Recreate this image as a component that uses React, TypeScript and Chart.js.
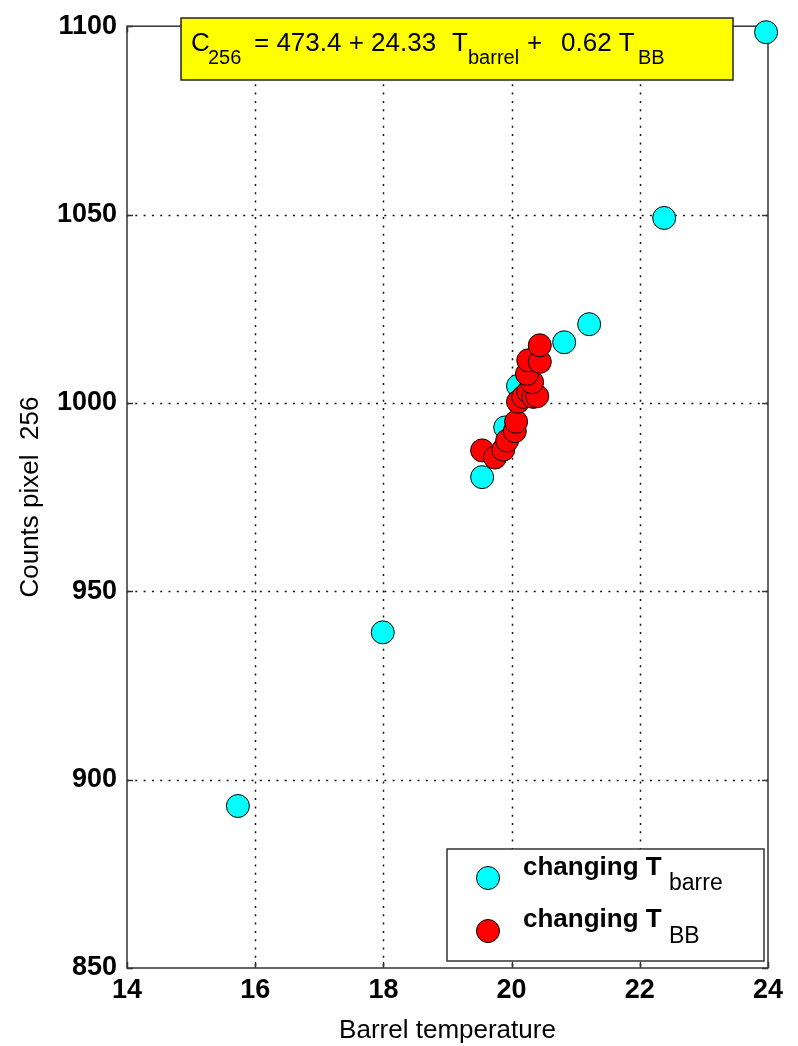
import React, { useEffect, useRef } from "react";
import { Chart, registerables } from "chart.js";

Chart.register(...registerables);

// ---- data ----
const xTicks = [14, 16, 18, 20, 22, 24];
const yTicks = [850, 900, 950, 1000, 1050, 1100];

const barrelTemp = [15.73, 17.99, 19.54, 19.9, 20.1, 20.82, 21.21, 22.38, 23.97];
const barrelCounts = [893.0, 939.1, 980.3, 993.5, 1004.5, 1016.1, 1020.9, 1049.1, 1098.4];

const bbTemp = [19.54, 19.74, 19.87, 19.93, 20.05, 20.07, 20.1, 20.18, 20.26, 20.34, 20.4, 20.32, 20.24, 20.26, 20.44, 20.44];
const bbCounts = [987.4, 985.5, 987.6, 990.0, 992.5, 995.0, 1000.3, 1001.6, 1003.0, 1001.6, 1001.8, 1005.5, 1007.7, 1011.3, 1010.9, 1015.3];

const xTitle = "Barrel temperature";
const yTitle = "Counts pixel  256";
const legendMain = ["changing T", "changing T"];
const legendSub = ["barre", "BB"];

const FONT = "'Liberation Sans', Arial, Helvetica, sans-serif";

const decor = {
  id: "decor",
  beforeDatasetsDraw(chart: any) {
    const { ctx, chartArea, scales } = chart;
    const { left, right, top, bottom } = chartArea;
    const x = scales.x;
    const y = scales.y;
    ctx.save();
    // dotted grid
    ctx.strokeStyle = "#111";
    ctx.lineWidth = 1.5;
    ctx.setLineDash([2, 6.3]);
    xTicks.slice(1, -1).forEach((v) => {
      const px = Math.round(x.getPixelForValue(v)) + 0.5;
      ctx.beginPath();
      ctx.moveTo(px, top);
      ctx.lineTo(px, bottom);
      ctx.stroke();
    });
    yTicks.slice(1, -1).forEach((v) => {
      const py = Math.round(y.getPixelForValue(v)) + 0.5;
      ctx.beginPath();
      ctx.moveTo(left, py);
      ctx.lineTo(right, py);
      ctx.stroke();
    });
    ctx.setLineDash([]);
    // frame
    ctx.strokeStyle = "#333";
    ctx.lineWidth = 1.5;
    ctx.strokeRect(left, top, right - left, bottom - top);
    // inward ticks
    const tl = 6;
    ctx.beginPath();
    xTicks.forEach((v) => {
      const px = Math.round(x.getPixelForValue(v)) + 0.5;
      ctx.moveTo(px, bottom);
      ctx.lineTo(px, bottom - tl);
      ctx.moveTo(px, top);
      ctx.lineTo(px, top + tl);
    });
    yTicks.forEach((v) => {
      const py = Math.round(y.getPixelForValue(v)) + 0.5;
      ctx.moveTo(left, py);
      ctx.lineTo(left + tl, py);
      ctx.moveTo(right, py);
      ctx.lineTo(right - tl, py);
    });
    ctx.stroke();
    ctx.restore();
  },
  afterDatasetsDraw(chart: any) {
    const { ctx } = chart;
    ctx.save();
    // equation box
    ctx.fillStyle = "#ffff00";
    ctx.fillRect(181, 18, 552, 62);
    ctx.strokeStyle = "#222";
    ctx.lineWidth = 1.5;
    ctx.strokeRect(181, 18, 552, 62);
    ctx.fillStyle = "#000";
    ctx.textBaseline = "alphabetic";
    ctx.textAlign = "left";
    const main = `26px ${FONT}`;
    const sub = `20px ${FONT}`;
    ctx.font = main;
    ctx.fillText("C", 191, 51);
    ctx.fillText("= 473.4 + 24.33", 254, 51);
    ctx.fillText("T", 452, 51);
    ctx.fillText("+", 527, 51);
    ctx.fillText("0.62 T", 561, 51);
    ctx.font = sub;
    ctx.fillText("256", 208, 64);
    ctx.fillText("barrel", 468, 64);
    ctx.fillText("BB", 638, 64);

    // legend box
    ctx.fillStyle = "#fff";
    ctx.fillRect(447, 849, 317, 112);
    ctx.strokeStyle = "#333";
    ctx.lineWidth = 1.5;
    ctx.strokeRect(447, 849, 317, 112);
    const rows = [
      { cy: 878, color: "#00ffff", base: 875, subBase: 890 },
      { cy: 931, color: "#ff0000", base: 927, subBase: 943 },
    ];
    rows.forEach((r, i) => {
      ctx.beginPath();
      ctx.arc(488, r.cy, 11.5, 0, Math.PI * 2);
      ctx.fillStyle = r.color;
      ctx.fill();
      ctx.strokeStyle = "#000";
      ctx.lineWidth = 1;
      ctx.stroke();
      ctx.fillStyle = "#000";
      ctx.font = `bold 26px ${FONT}`;
      ctx.fillText(legendMain[i], 523, r.base);
      ctx.font = `23px ${FONT}`;
      ctx.fillText(legendSub[i], 669, r.subBase);
    });
    ctx.restore();
  },
};

export default function App() {
  const ref = useRef<HTMLCanvasElement | null>(null);
  useEffect(() => {
    document.body.style.margin = "0";
    const canvas = ref.current;
    if (!canvas) return;
    const chart = new Chart(canvas, {
      type: "scatter",
      data: {
        datasets: [
          {
            label: "changing T_BB",
            data: bbTemp.map((t, i) => ({ x: t, y: bbCounts[i] })),
            backgroundColor: "#ff0000",
            borderColor: "#000",
            borderWidth: 1,
            pointRadius: 11.5,
            pointHoverRadius: 11.5,
            order: 0,
            clip: false as any,
          },
          {
            label: "changing T_barrel",
            data: barrelTemp.map((t, i) => ({ x: t, y: barrelCounts[i] })),
            backgroundColor: "#00ffff",
            borderColor: "#000",
            borderWidth: 1,
            pointRadius: 11.5,
            pointHoverRadius: 11.5,
            order: 1,
            clip: false as any,
          },
        ],
      },
      options: {
        animation: false,
        responsive: false,
        maintainAspectRatio: false,
        devicePixelRatio: 1,
        events: [],
        layout: { padding: { left: 0, right: 30, top: 20, bottom: 0 } },
        plugins: {
          legend: { display: false },
          tooltip: { enabled: false },
        },
        scales: {
          x: {
            type: "linear",
            min: 14,
            max: 24,
            afterFit: (s: any) => {
              s.height = 78;
            },
            afterBuildTicks: (s: any) => {
              s.ticks = xTicks.map((v) => ({ value: v }));
            },
            grid: { display: false, drawTicks: false },
            border: { display: false },
            ticks: {
              color: "#000",
              font: { family: FONT, size: 27, weight: "bold" },
              padding: 6,
              maxRotation: 0,
              autoSkip: false,
              callback: (v: any) => String(v),
            },
            title: {
              display: true,
              text: xTitle,
              color: "#000",
              font: { family: FONT, size: 26 },
              padding: { top: 0, bottom: 0 },
            },
          },
          y: {
            type: "linear",
            min: 850,
            max: 1100,
            afterFit: (s: any) => {
              s.width = 127;
            },
            afterBuildTicks: (s: any) => {
              s.ticks = yTicks.map((v) => ({ value: v }));
            },
            grid: { display: false, drawTicks: false },
            border: { display: false },
            ticks: {
              color: "#000",
              font: { family: FONT, size: 27, weight: "bold" },
              padding: 10,
              autoSkip: false,
              callback: (v: any) => String(v),
            },
            title: {
              display: true,
              text: yTitle,
              color: "#000",
              font: { family: FONT, size: 26 },
              padding: { top: 15, bottom: 0 },
            },
          },
        },
      },
      plugins: [decor],
    });
    return () => chart.destroy();
  }, []);
  return (
    <div style={{ width: 798, height: 1046 }}>
      <canvas ref={ref} width={798} height={1046} style={{ display: "block", width: 798, height: 1046 }} />
    </div>
  );
}
